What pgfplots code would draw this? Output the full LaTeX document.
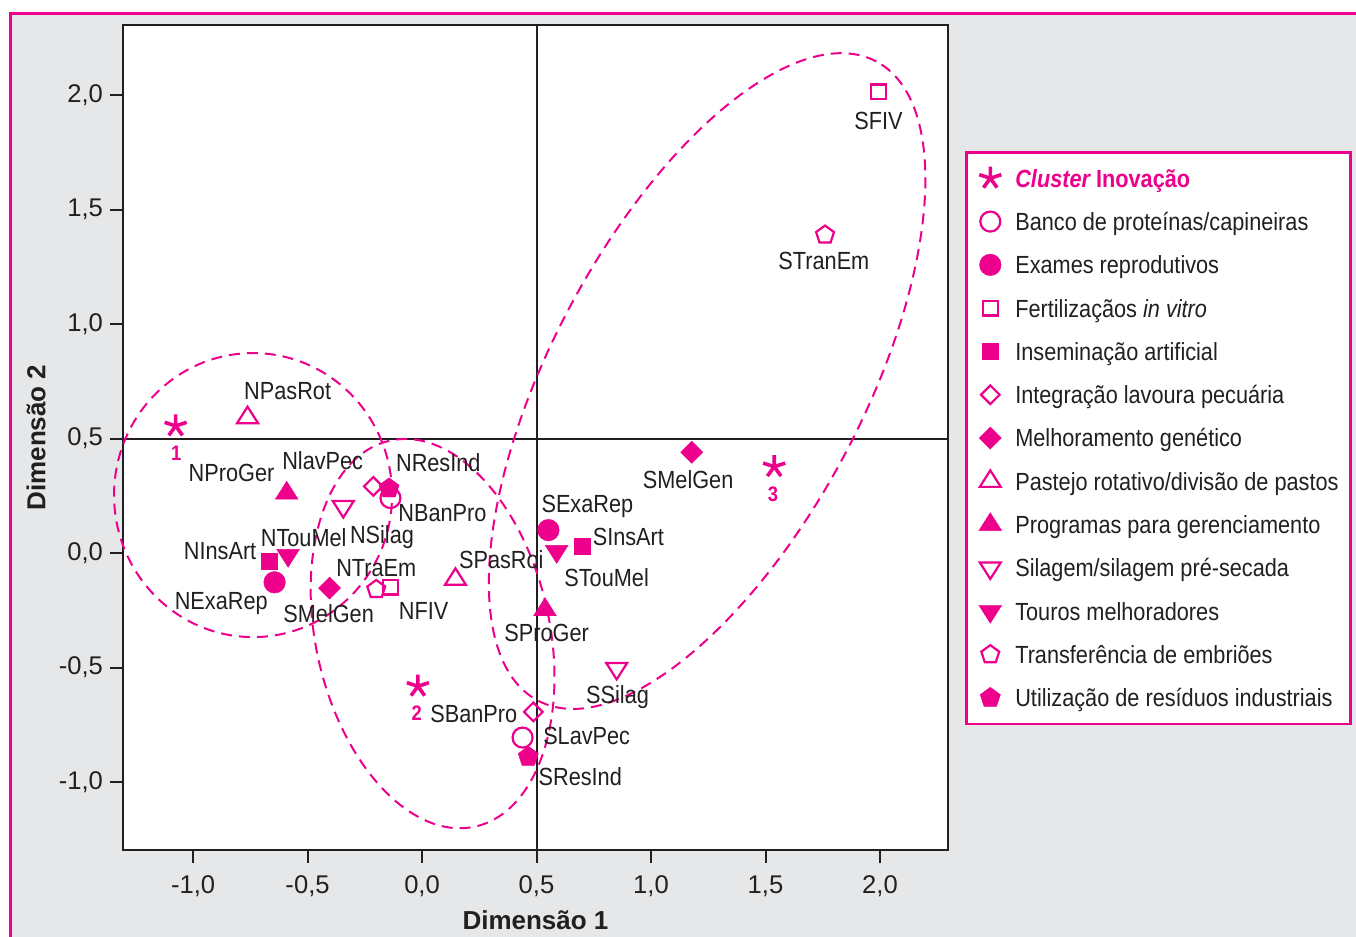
\documentclass[border=0pt]{standalone}
\usepackage{fontspec}
\setmainfont{Liberation Sans}
\newfontfamily\condfont{Liberation Sans}[FakeStretch=0.875]
\usepackage{pgfplots}
\pgfplotsset{compat=1.18}
\definecolor{mag}{RGB}{236,0,140}
\definecolor{bg}{RGB}{230,231,232}
\definecolor{txt}{RGB}{35,31,32}
\tikzset{
  lbl/.style={font=\condfont\fontsize{12.4}{14}\selectfont, text=txt, anchor=base, yshift=-4.4pt, inner sep=0pt},
  num/.style={font=\condfont\bfseries\fontsize{10.5}{12}\selectfont, text=mag, anchor=base, yshift=-3.8pt, inner sep=0pt},
  elli/.style={draw=mag, line width=1pt, dash pattern=on 5.5pt off 3.5pt},
}
\begin{document}
\begin{tikzpicture}
\useasboundingbox (0pt,0pt) rectangle (678pt,468.5pt);
\fill[white] (0pt,0pt) rectangle (678pt,468.5pt);
\fill[bg] (5pt,0pt) rectangle (678pt,461.8pt);
\draw[mag, line width=1.5pt] (5pt,0pt) -- (5pt,461.8pt) -- (678pt,461.8pt);

\begin{axis}[
  at={(61.5pt,43.5pt)}, anchor=south west,
  scale only axis, width=412.5pt, height=412.5pt,
  xmin=-1.306, xmax=2.297, ymin=-1.297, ymax=2.306,
  clip=false,
  axis background/.style={fill=white},
  axis line style={line width=1.3pt, draw=txt},
  tick align=outside, tick pos=left,
  major tick length=6.5pt,
  major tick style={line width=1pt, draw=txt},
  xtick={-1,-0.5,0,0.5,1,1.5,2},
  xticklabels={{-1,0},{-0,5},{0,0},{0,5},{1,0},{1,5},{2,0}},
  ytick={-1,-0.5,0,0.5,1,1.5,2},
  yticklabels={{-1,0},{-0,5},{0,0},{0,5},{1,0},{1,5},{2,0}},
  ticklabel style={font=\fontsize{12.8}{14}\selectfont, text=txt},
  xticklabel style={yshift=-3pt},
  xlabel={Dimensão 1}, ylabel={Dimensão 2},
  every axis x label/.style={at={(axis description cs:0.5,-0.0962)}, anchor=base, font=\fontsize{13}{15}\selectfont\bfseries, text=txt},
  every axis y label/.style={at={(axis description cs:-0.1055,0.5)}, rotate=90, anchor=center, font=\fontsize{13}{15}\selectfont\bfseries, text=txt},
  legend style={at={(1.0206,0.8473)}, anchor=north west, draw=mag, line width=1.3pt, fill=white,
    inner xsep=6pt, inner ysep=7pt, row sep=9.65pt,
    font=\condfont\fontsize{12.4}{14}\selectfont,
    nodes={inner sep=0pt, text height=8.85pt, text depth=0pt, text=txt},
    /tikz/every odd column/.append style={column sep=6.5pt}},
  legend cell align=left,
  legend image code/.code={\path[draw=none, fill=none] (-6pt,-6pt) rectangle (6pt,6pt); \draw[#1] plot coordinates {(0pt,0pt)};},
]
% reference lines
\addplot[forget plot, no marks, draw=txt, line width=1pt] coordinates {(0.5,-1.297) (0.5,2.306)};
\addplot[forget plot, no marks, draw=txt, line width=1pt] coordinates {(-1.306,0.5) (2.297,0.5)};

% cluster ellipses
\draw[elli] (axis cs:-0.738,0.253) ellipse [x radius=69.5pt, y radius=71pt];
\draw[elli, shift={(axis cs:0.046,-0.352)}, rotate=12.4] (0pt,0pt) ellipse [x radius=58.5pt, y radius=98.8pt];
\draw[elli, shift={(axis cs:1.245,0.751)}, rotate=62.1] (0pt,0pt) ellipse [x radius=180.8pt, y radius=78pt];

\addplot[only marks, mark=star, mark size=5.8pt, mark options={draw=mag, line width=1.8pt}]
  coordinates {(-1.076,0.555) (-0.018,-0.582) (1.538,0.377)};
\addlegendentry{\textcolor{mag}{\bfseries\itshape Cluster\upshape{} Inovação}}

\addplot[only marks, mark=o, mark size=5pt, mark options={draw=mag, line width=1.1pt}]
  coordinates {(-0.138,0.240) (0.439,-0.806)};
\addlegendentry{Banco de proteínas/capineiras}

\addplot[only marks, mark=*, mark size=5.4pt, mark options={draw=mag, fill=mag, line width=0.2pt}]
  coordinates {(-0.644,-0.128) (0.552,0.100)};
\addlegendentry{Exames reprodutivos}

\addplot[only marks, mark=square, mark size=3.7pt, mark options={draw=mag, line width=1.1pt}]
  coordinates {(-0.139,-0.149) (1.993,2.014)};
\addlegendentry{Fertilizaçãos \textit{in vitro}}

\addplot[only marks, mark=square*, mark size=4pt, mark options={draw=mag, fill=mag, line width=0.2pt}]
  coordinates {(-0.666,-0.035) (0.699,0.031)};
\addlegendentry{Inseminação artificial}

\addplot[only marks, mark=square, mark size=3.3pt, mark options={draw=mag, line width=1.1pt, rotate=45}]
  coordinates {(-0.213,0.291) (0.486,-0.694)};
\addlegendentry{Integração lavoura pecuária}

\addplot[only marks, mark=square*, mark size=3.9pt, mark options={draw=mag, fill=mag, line width=0.2pt, rotate=45}]
  coordinates {(-0.404,-0.153) (1.178,0.440)};
\addlegendentry{Melhoramento genético}

\addplot[only marks, mark=triangle, mark size=5.5pt, mark options={draw=mag, line width=1.1pt, xscale=1.1}]
  coordinates {(-0.762,0.591) (0.146,-0.115)};
\addlegendentry{Pastejo rotativo/divisão de pastos}

\addplot[only marks, mark=triangle*, mark size=6pt, mark options={draw=mag, fill=mag, line width=0.2pt, xscale=1.1}]
  coordinates {(-0.591,0.261) (0.537,-0.248)};
\addlegendentry{Programas para gerenciamento}

\addplot[only marks, mark=triangle, mark size=5.5pt, mark options={draw=mag, line width=1.1pt, rotate=180, xscale=1.1}]
  coordinates {(-0.344,0.203) (0.850,-0.504)};
\addlegendentry{Silagem/silagem pré-secada}

\addplot[only marks, mark=triangle*, mark size=6pt, mark options={draw=mag, fill=mag, line width=0.2pt, rotate=180, xscale=1.1}]
  coordinates {(-0.585,-0.010) (0.588,0.007)};
\addlegendentry{Touros melhoradores}

\addplot[only marks, mark=pentagon, mark size=4.7pt, mark options={draw=mag, line width=1.1pt}]
  coordinates {(-0.2,-0.159) (1.760,1.389)};
\addlegendentry{Transferência de embriões}

\addplot[only marks, mark=pentagon*, mark size=5.3pt, mark options={draw=mag, fill=mag, line width=0.2pt}]
  coordinates {(-0.144,0.282) (0.464,-0.890)};
\addlegendentry{Utilização de resíduos industriais}

% point labels
\node[lbl] at (axis cs:-0.587,0.708) {NPasRot};
\node[lbl] at (axis cs:-0.832,0.349) {NProGer};
\node[lbl] at (axis cs:-0.434,0.403) {NlavPec};
\node[lbl] at (axis cs:0.071,0.395) {NResInd};
\node[lbl] at (axis cs:0.089,0.176) {NBanPro};
\node[lbl] at (axis cs:-0.175,0.081) {NSilag};
\node[lbl] at (axis cs:-0.517,0.066) {NTouMel};
\node[lbl] at (axis cs:-0.882,0.010) {NInsArt};
\node[lbl] at (axis cs:-0.200,-0.063) {NTraEm};
\node[lbl] at (axis cs:-0.877,-0.209) {NExaRep};
\node[lbl] at (axis cs:-0.408,-0.267) {SMelGen};
\node[lbl] at (axis cs:0.007,-0.252) {NFIV};
\node[lbl] at (axis cs:0.346,-0.031) {SPasRoi};
\node[lbl] at (axis cs:0.722,0.215) {SExaRep};
\node[lbl] at (axis cs:0.901,0.073) {SInsArt};
\node[lbl] at (axis cs:0.806,-0.107) {STouMel};
\node[lbl] at (axis cs:0.544,-0.346) {SProGer};
\node[lbl] at (axis cs:0.854,-0.617) {SSilag};
\node[lbl] at (axis cs:0.226,-0.702) {SBanPro};
\node[lbl] at (axis cs:0.719,-0.797) {SLavPec};
\node[lbl] at (axis cs:0.691,-0.979) {SResInd};
\node[lbl] at (axis cs:1.162,0.321) {SMelGen};
\node[lbl] at (axis cs:1.993,1.889) {SFIV};
\node[lbl] at (axis cs:1.755,1.276) {STranEm};
\node[num] at (axis cs:-1.073,0.439) {1};
\node[num] at (axis cs:-0.023,-0.697) {2};
\node[num] at (axis cs:1.533,0.256) {3};
\end{axis}
\end{tikzpicture}
\end{document}
